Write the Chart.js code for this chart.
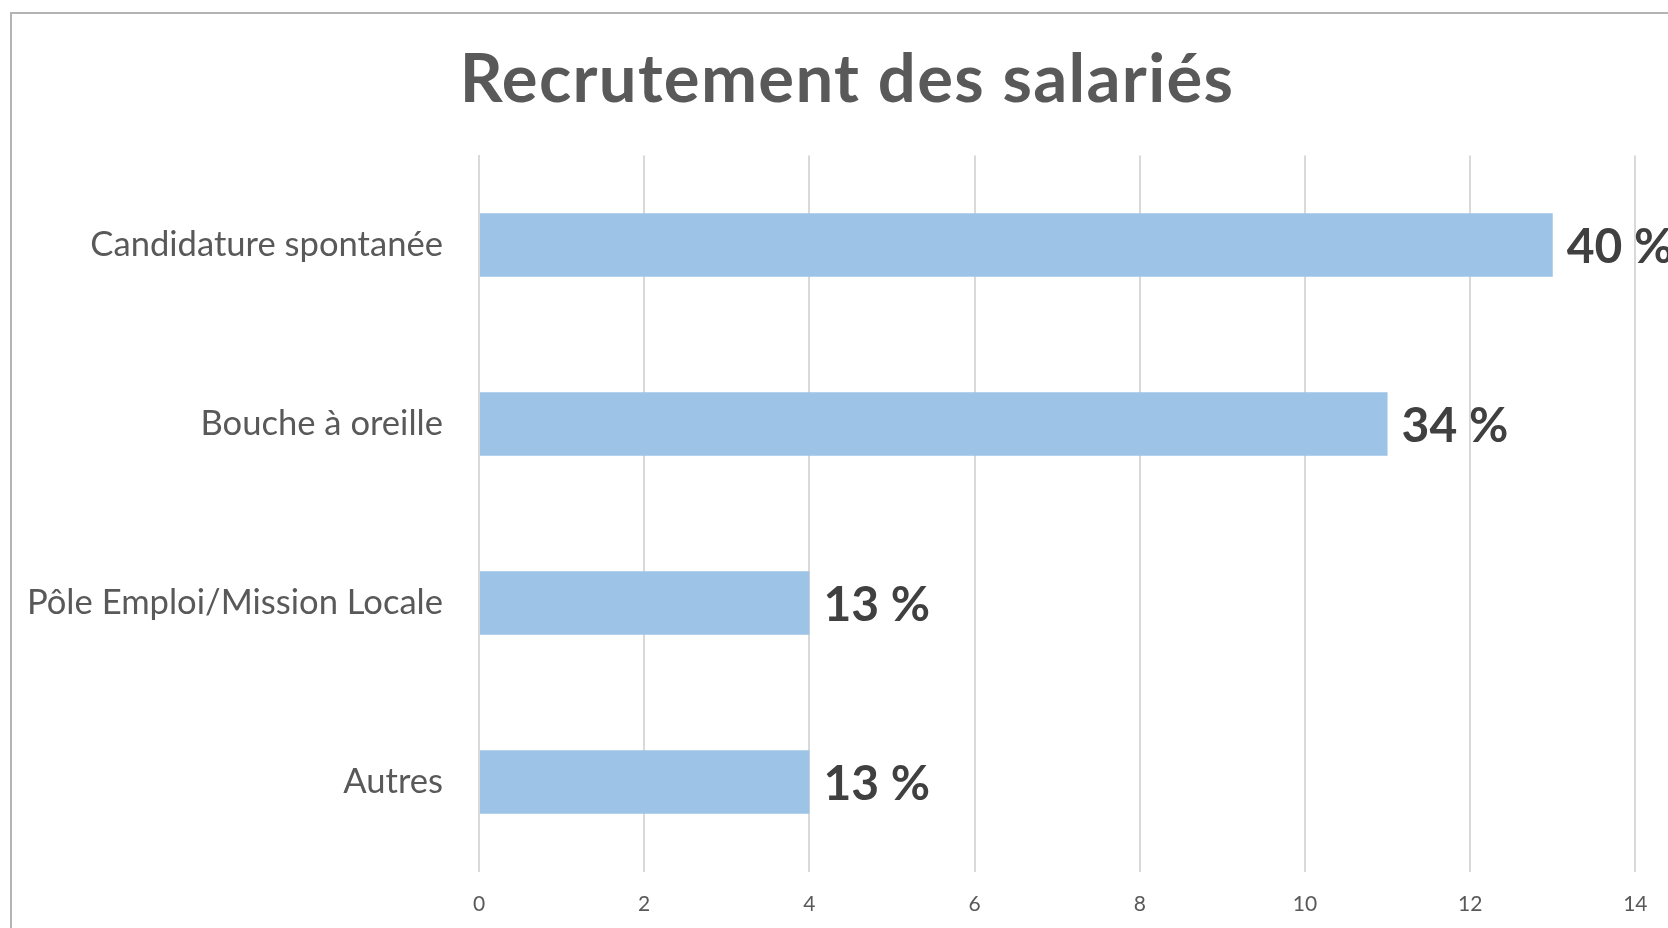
<!DOCTYPE html>
<html>
<head>
<meta charset="utf-8">
<script src="https://cdn.jsdelivr.net/npm/chart.js@4"></script>
<style>
  html, body { margin: 0; padding: 0; background: #ffffff; overflow: hidden; }
  #frame { position: absolute; left: 10px; top: 12px; width: 1700px; height: 960px;
           border-left: 2px solid #B4B4B4; border-top: 2px solid #B4B4B4; }
  #wrap { position: absolute; left: 0; top: 0; width: 1668px; height: 950px; }
</style>
</head>
<body>
<div id="frame"></div>
<div id="wrap"><canvas id="c" width="1668" height="950"></canvas></div>
<script>
const titleText = 'Recrutement des salariés';
const categories = ["Candidature spontanée", "Bouche à oreille", "Pôle Emploi/Mission Locale", "Autres"];
const counts = [13, 11, 4, 4];
const percentLabels = ["40 %", "34 %", "13 %", "13 %"];
const xTicks = [0, 2, 4, 6, 8, 10, 12, 14];

const valueLabels = {
  id: 'valueLabels',
  afterDatasetsDraw(chart) {
    const ctx = chart.ctx;
    const meta = chart.getDatasetMeta(0);
    ctx.save();
    ctx.font = 'bold 48px Lato';
    ctx.fillStyle = '#404040';
    ctx.textAlign = 'left';
    ctx.textBaseline = 'middle';
    meta.data.forEach((bar, i) => {
      ctx.fillText(percentLabels[i], bar.x + 14, bar.y + 3);
    });
    ctx.restore();
  }
};

const chartTitle = {
  id: 'chartTitle',
  afterDraw(chart) {
    const ctx = chart.ctx;
    ctx.save();
    ctx.font = 'bold 67px Lato';
    try { ctx.letterSpacing = '1.3px'; } catch (e) {}
    ctx.fillStyle = '#595959';
    ctx.textAlign = 'center';
    ctx.textBaseline = 'alphabetic';
    ctx.fillText(titleText, 847, 102);
    ctx.restore();
  }
};

new Chart(document.getElementById('c'), {
  type: 'bar',
  data: {
    labels: categories,
    datasets: [{
      data: counts,
      backgroundColor: '#9DC3E6',
      borderWidth: 0,
      categoryPercentage: 1,
      barPercentage: 0.355
    }]
  },
  options: {
    indexAxis: 'y',
    responsive: false,
    animation: false,
    layout: { padding: { left: 0, right: 27, top: 155.5, bottom: 12.3 } },
    plugins: {
      legend: { display: false },
      tooltip: { enabled: false },
      title: { display: false }
    },
    scales: {
      x: {
        min: 0, max: 14,
        afterBuildTicks: s => { s.ticks = xTicks.map(v => ({ value: v })); },
        grid: { color: '#D9D9D9', lineWidth: 2, drawTicks: false },
        border: { display: false },
        ticks: { color: '#595959', font: { family: 'Lato', size: 21 }, padding: 20.5 }
      },
      y: {
        afterFit: s => { s.width = 479; },
        grid: { display: false, drawTicks: false },
        border: { display: true, color: '#D9D9D9', width: 2 },
        ticks: { color: '#595959', font: { family: 'Lato', size: 34.6 }, padding: 36 }
      }
    }
  },
  plugins: [valueLabels, chartTitle]
});
</script>
</body>
</html>
